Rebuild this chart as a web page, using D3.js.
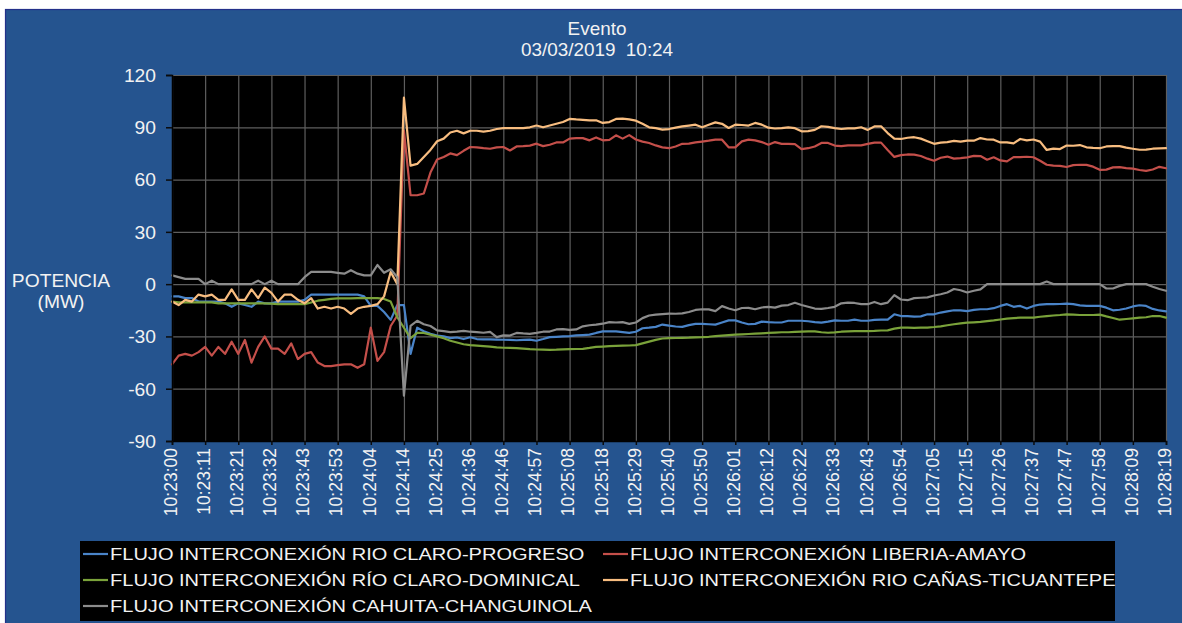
<!DOCTYPE html>
<html>
<head>
<meta charset="utf-8">
<script src="https://cdn.jsdelivr.net/npm/d3@7/dist/d3.min.js"></script>
<style>
  html, body { margin: 0; padding: 0; background: #ffffff; }
  svg { display: block; }
  text { font-family: "Liberation Sans", Arial, sans-serif; fill: #f2f2f2; white-space: pre; }
</style>
</head>
<body>
<svg id="chart" width="1182" height="623"></svg>
<script>
// ---------- DATA ----------
const titleLines = ["Evento", "03/03/2019  10:24"];
const yLabelLines = ["POTENCIA", "(MW)"];
const yTicks = [-90, -60, -30, 0, 30, 60, 90, 120];
const xLabels = ["10:23:00","10:23:11","10:23:21","10:23:32","10:23:43","10:23:53","10:24:04","10:24:14",
  "10:24:25","10:24:36","10:24:46","10:24:57","10:25:08","10:25:18","10:25:29","10:25:40","10:25:50",
  "10:26:01","10:26:12","10:26:22","10:26:33","10:26:43","10:26:54","10:27:05","10:27:15","10:27:26",
  "10:27:37","10:27:47","10:27:58","10:28:09","10:28:19"];
const samplesPerLabel = 5;

const seriesNames = [
  "FLUJO INTERCONEXIÓN RIO CLARO-PROGRESO",
  "FLUJO INTERCONEXIÓN LIBERIA-AMAYO",
  "FLUJO INTERCONEXIÓN RÍO CLARO-DOMINICAL",
  "FLUJO INTERCONEXIÓN RIO CAÑAS-TICUANTEPE",
  "FLUJO INTERCONEXIÓN CAHUITA-CHANGUINOLA"
];
const seriesColors = ["#4a84c8", "#c44f4a", "#7aa23a", "#f8bd80", "#8c8c8c"];

const rioClaroProgreso = [
  -7, -7, -8, -8, -10, -10, -10, -10, -11, -13,
  -11, -12, -13, -10, -11, -11, -10, -10, -10, -10,
  -9, -6, -6, -6, -6, -6, -6, -6, -6, -7,
  -12.5, -12.5, -16, -20.5, -12, -12, -40, -25, -27, -28.5,
  -29.5, -30, -31, -30.6, -31.5, -30.5, -31.5, -31.7, -31.7, -31.8,
  -31.9, -32, -32.2, -32, -31.8, -32.5, -31.5, -30.4, -30.2, -30,
  -29.8, -29.4, -29.2, -29, -28, -27.1, -27.1, -27.1, -27.5, -28,
  -27.3, -25.3, -25, -24.5, -23.2, -23.8, -24.3, -24.5, -23.5, -22.8,
  -22.8, -23, -23.2, -22, -20.8, -20.8, -22, -23, -22.8, -21.5,
  -21.8, -22, -22, -21, -21, -21, -21.3, -21.8, -22.1, -21.5,
  -20.8, -21, -21, -20.4, -21, -21, -20.5, -20.4, -20.4, -17.3,
  -18.3, -18.4, -18.6, -18.5, -17.3, -17.3, -16.3, -15.6, -15, -15,
  -15.5, -14.8, -14.4, -14.4, -13.8, -12.5, -11.5, -13, -12.5, -14,
  -12.5, -11.7, -11.5, -11.5, -11.4, -11.2, -11.5, -12.2, -12.5, -12.5,
  -12.5, -13.5, -15, -14.7, -14, -12.8, -12.1, -12.5, -14.2, -15.1,
  -15.6
];
const liberiaAmayo = [
  -46, -41, -40, -41, -39, -36, -41, -36, -40, -33,
  -40, -32, -45, -36, -30, -37, -37, -40, -34, -43,
  -40, -39, -45, -47, -47, -46.5, -46, -46, -48, -46,
  -25, -44, -39, -24, -18, 88, 51, 51, 52, 64,
  71.5, 73, 75, 74, 76.5, 78.7, 78.5, 78, 77.7, 78.5,
  78.7, 76.7, 79, 79.2, 79.5, 80.6, 79.2, 80, 81.3, 81.3,
  83.5, 83.8, 83.8, 82.5, 84.2, 82.5, 82.8, 85.4, 83.5, 85.5,
  83, 81.8, 81, 79.6, 78.5, 78, 79, 80.5, 80.6, 81.3,
  81.8, 82.3, 82.9, 82.9, 78.5, 78.5, 81.9, 82.9, 82.5, 81.5,
  80, 81.5, 80.5, 80.5, 80.3, 77.5, 78, 79, 81, 81,
  79.5, 79.2, 79.6, 79.6, 79.6, 80.5, 81.2, 81.2, 77, 73,
  74, 74.4, 74.3, 73.5, 72, 70.8, 72.5, 73.2, 72, 72.3,
  72.7, 73.6, 73.5, 71.4, 72.8, 71, 70.4, 72.9, 72.9, 73.1,
  72.8, 70.8, 68.5, 68, 67.9, 67.2, 68.3, 68.5, 68.4, 67.4,
  65.6, 65.7, 67, 67.1, 66.6, 66.3, 65.5, 65, 65.8, 67.3,
  66.5
];
const rioClaroDominical = [
  -10, -10.5, -10.5, -10.5, -10.5, -10.5, -10.5, -11, -11, -11,
  -11, -11, -11, -11, -11, -11.2, -11.5, -11.5, -11.5, -11.5,
  -11.5, -10.5, -9.5, -9, -8.5, -8.2, -8.2, -8.2, -8, -8,
  -8, -8, -8.5, -10, -19, -25, -31, -28, -28, -29,
  -30, -31, -32.5, -33.5, -34.5, -35, -35.3, -35.6, -35.9, -36.3,
  -36.5, -36.6, -36.7, -37, -37.3, -37.5, -37.6, -37.7, -37.6, -37.4,
  -37.3, -37.2, -37.1, -36.6, -36, -35.8, -35.6, -35.4, -35.3, -35.2,
  -35, -34, -33, -32, -31.2, -31, -30.9, -30.8, -30.7, -30.5,
  -30.4, -30.2, -29.8, -29.5, -29.2, -29, -28.8, -28.6, -28.4, -28.2,
  -28, -27.8, -27.6, -27.6, -27.4, -27.2, -27.1, -27.1, -27.6, -27.9,
  -27.7, -27.3, -27.1, -27, -26.9, -26.9, -26.8, -26.6, -26.5, -25.5,
  -25, -25, -25.1, -25, -24.9, -24.6, -24.2, -23.6, -23, -22.5,
  -22.1, -21.9, -21.7, -21.2, -20.8, -20.3, -19.8, -19.5, -19.2, -19.2,
  -19.2, -18.7, -18.3, -18, -17.7, -17.3, -17.5, -17.7, -17.7, -17.7,
  -17.5, -18.5, -19.4, -20.4, -20, -19.6, -19.2, -19, -18.3, -18.3,
  -19.2
];
const rioCanasTicuantepe = [
  -10, -12, -9, -10, -6, -7, -6, -9, -9, -3,
  -9, -9, -3, -8, -2, -5, -10, -6, -6, -9,
  -11, -8, -14, -13, -14, -13, -14, -17, -14, -13,
  -12.5, -11.5, -7, 7, 0, 107, 68, 69, 73, 77,
  82, 83.5, 87, 88, 86.5, 88, 88, 87.5, 88, 89,
  89.5, 89.5, 89.5, 89.5, 90, 91, 90, 91, 92, 93,
  94.8, 94.5, 94.3, 94, 94, 92.5, 93, 94.8, 95, 94.5,
  93.8, 92, 90, 89.5, 88.7, 89, 89.8, 90.5, 91, 91.5,
  90, 91.5, 92.8, 92, 89.6, 91.5, 91.3, 91, 92.5, 91.5,
  89.8, 89.3, 89.5, 90, 89.5, 87.7, 87.8, 88.5, 90.6, 90.2,
  89.5, 89, 89.4, 89.4, 90, 88.5, 90.5, 90.6, 86.7, 83.5,
  83.3, 84, 84.3, 83.5, 82, 80.5, 81.2, 81.5, 82.2, 81.8,
  82.3, 82.3, 83.8, 83, 82.9, 81.3, 81.3, 80.8, 83.3, 82.5,
  83, 81.8, 77, 77.8, 77.5, 79.5, 79.4, 79.8, 78.5, 78.2,
  78, 79, 79.2, 79.2, 78.3, 77.7, 77.1, 77.2, 77.7, 77.9,
  78
];
const cahuitaChanguinola = [
  5, 4, 3, 3, 3, 0, 2, 0, 0, 0,
  0, 0, 0, 2, 0, 2, 0, 0, 0, 0,
  4, 7, 7, 7, 7, 6.5, 6, 8, 6, 5,
  5, 11, 6.5, 8.5, 4, -64, -24, -21, -23, -24,
  -26.5, -27, -27.5, -27.2, -26.8, -27.3, -27.5, -27.9, -27.4, -30.4,
  -29.4, -29.5, -28, -28.3, -28.5, -28, -27.3, -27.2, -26, -25.8,
  -26.2, -26, -24.2, -23.6, -23.2, -22.7, -21.8, -22, -21.8, -22.8,
  -22, -19.5, -18, -17.5, -17.2, -16.9, -17, -16.8, -16, -14.8,
  -14.4, -14.5, -15.5, -12.6, -14, -15, -13.7, -13.6, -14.4, -13.4,
  -13, -13.5, -12.3, -12, -10.7, -12, -13, -14, -14.2, -13.7,
  -13, -11, -10.6, -10.8, -11.5, -11.5, -10.2, -11.5, -10.6, -6.3,
  -8.8, -9.2, -8, -7.8, -7.6, -6.5, -5.8, -4.8, -2.8, -3.5,
  -4.8, -3.8, -3, 0, 0, 0, 0, 0, 0, 0,
  0, 0, 1.5, 0, 0, 0, 0, 0, 0, 0,
  0, -2.5, -2.5, -1, 0, 0, 0, 0, -1.5, -2.8,
  -3.8
];
const seriesValues = [rioClaroProgreso, liberiaAmayo, rioClaroDominical, rioCanasTicuantepe, cahuitaChanguinola];

// ---------- LAYOUT ----------
const svg = d3.select("#chart");
const W = 1182, H = 623;
const plot = { left: 172, right: 1166, top: 75, bottom: 441 };
const textFill = "#f2f2f2";
const fontMain = 17.5;
const fontFam = '"Liberation Sans", Arial, sans-serif';

// Blue panel
svg.append("rect").attr("x", 5.5).attr("y", 9.5).attr("width", W).attr("height", H)
  .attr("fill", "#25548f").attr("stroke", "#23308a").attr("stroke-width", 1.2);

// Scales
const nPts = rioClaroProgreso.length;
const x = d3.scaleLinear().domain([0, nPts - 1]).range([plot.left, plot.right]);
const y = d3.scaleLinear().domain([d3.min(yTicks), d3.max(yTicks)]).range([plot.bottom, plot.top]);
const xTickIdx = xLabels.map((_, k) => k * samplesPerLabel);

// Plot background
svg.append("rect").attr("x", plot.left).attr("y", plot.top)
  .attr("width", plot.right - plot.left).attr("height", plot.bottom - plot.top).attr("fill", "#000");

// Gridlines
const gridColor = "#5e5e5e";
svg.append("g").attr("transform", `translate(${plot.left},0)`)
  .call(d3.axisLeft(y).tickValues(yTicks).tickSize(-(plot.right - plot.left)).tickFormat(""))
  .call(g => g.select(".domain").remove())
  .call(g => g.selectAll("line").attr("stroke", gridColor).attr("stroke-width", 1.2));
svg.append("g").attr("transform", `translate(0,${plot.bottom})`)
  .call(d3.axisBottom(x).tickValues(xTickIdx).tickSize(-(plot.bottom - plot.top)).tickFormat(""))
  .call(g => g.select(".domain").remove())
  .call(g => g.selectAll("line").attr("stroke", gridColor).attr("stroke-width", 1.2));

// Lines
const line = d3.line().x((d, i) => x(i)).y(d => y(d));
seriesValues.forEach((vals, s) => {
  svg.append("path").datum(vals)
    .attr("fill", "none").attr("stroke", seriesColors[s])
    .attr("stroke-width", 2.2).attr("stroke-linejoin", "round").attr("stroke-linecap", "round")
    .attr("d", line);
});

// Y axis
svg.append("g").attr("transform", `translate(${plot.left},0)`)
  .call(d3.axisLeft(y).tickValues(yTicks).tickSize(6).tickFormat(d => String(d)))
  .call(g => g.select(".domain").attr("stroke", "#000").attr("stroke-width", 1.5))
  .call(g => g.selectAll(".tick line").attr("stroke", "#0b0b0b").attr("stroke-width", 1.5))
  .call(g => g.selectAll(".tick text")
    .attr("x", 0).attr("dy", "0.36em")
    .attr("transform", "translate(-16,0) scale(1.1,1)")
    .attr("text-anchor", "end")
    .style("font-size", fontMain + "px").style("fill", textFill)
    .style("font-family", fontFam));

// X axis
svg.append("g").attr("transform", `translate(0,${plot.bottom})`)
  .call(d3.axisBottom(x).tickValues(xTickIdx).tickSize(4)
    .tickFormat(i => xLabels[Math.round(i / samplesPerLabel)]))
  .call(g => g.select(".domain").attr("stroke", "#000").attr("stroke-width", 1.5))
  .call(g => g.selectAll(".tick line").attr("stroke", "#0b0b0b").attr("stroke-width", 1.5))
  .call(g => g.selectAll(".tick text")
    .attr("transform", "rotate(-90)")
    .attr("x", -7).attr("y", -2).attr("dy", "0.36em")
    .attr("text-anchor", "end")
    .style("font-size", fontMain + "px").style("fill", textFill)
    .style("font-family", fontFam));

// Title
const titleY = [35, 56];
titleLines.forEach((t, k) => {
  svg.append("text").attr("transform", `translate(597,${titleY[k]}) scale(1.05,1)`)
    .attr("xml:space", "preserve")
    .attr("text-anchor", "middle").style("font-size", "18px").text(t);
});

// Y label
const yLabY = [287, 308];
yLabelLines.forEach((t, k) => {
  svg.append("text").attr("transform", `translate(61,${yLabY[k]}) scale(1.1,1)`)
    .attr("text-anchor", "middle").style("font-size", fontMain + "px").text(t);
});

// Legend
const leg = { x: 80, y: 541, w: 1035, h: 80 };
svg.append("rect").attr("x", leg.x).attr("y", leg.y).attr("width", leg.w).attr("height", leg.h)
  .attr("fill", "#000");
const legCols = [83, 603];
const legRows = [554, 580, 606];
seriesNames.forEach((name, s) => {
  const cx = legCols[s % 2], cy = legRows[Math.floor(s / 2)];
  svg.append("line").attr("x1", cx).attr("x2", cx + 25).attr("y1", cy).attr("y2", cy)
    .attr("stroke", seriesColors[s]).attr("stroke-width", 2.2);
  svg.append("text").attr("transform", `translate(${cx + 27},${cy}) scale(1.18,1)`)
    .attr("dy", "0.36em").style("font-size", "17px").text(name);
});
</script>
</body>
</html>
